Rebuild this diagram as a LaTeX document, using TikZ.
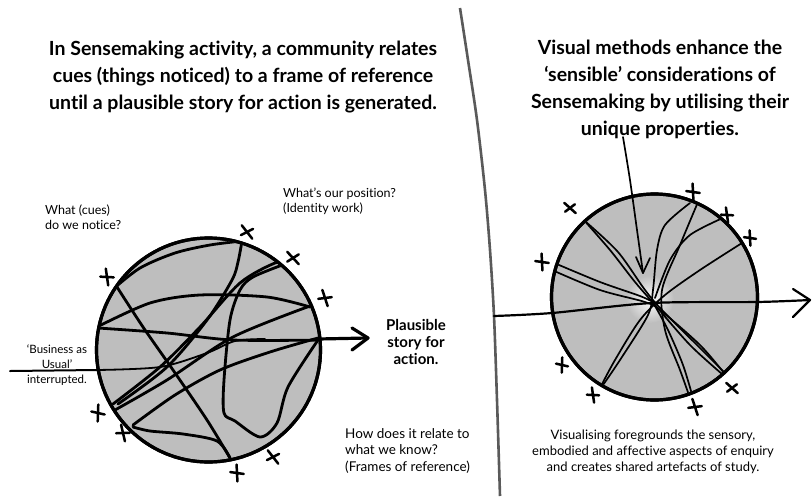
\documentclass[tikz,border=0pt]{standalone}
\usepackage{fontspec}
\setmainfont{Lato}[Ligatures={NoCommon}]
\definecolor{fillgray}{RGB}{190,190,190}
\definecolor{divgray}{RGB}{90,90,90}
\tikzset{
  titletext/.style={align=center, inner sep=0pt, font=\fontsize{19.5}{27}\selectfont\bfseries},
  smalltext/.style={align=left, inner sep=0pt, font=\fontsize{12.5}{15}\selectfont},
  captext/.style={align=center, inner sep=0pt, font=\fontsize{13}{16}\selectfont},
  boldlabel/.style={align=center, inner sep=0pt, font=\fontsize{15}{17}\selectfont\bfseries},
  ball/.style={circle, draw=black, line width=3.2pt, fill=fillgray, inner sep=0pt},
  thickstroke/.style={line width=2.8pt, line cap=round, line join=round},
  thinstroke/.style={line width=1.7pt, line cap=round, line join=round},
  xmark/.pic={\draw[line width=2.5pt, line cap=round] (-4,-7.5) -- (4,7.5) (-6.5,2) -- (6.5,-2);}
}
\begin{document}
\begin{tikzpicture}[x=1pt,y=-1pt]
\useasboundingbox (0,0) rectangle (812,496);
\fill[white] (0,0) rectangle (812,496);

% divider
\draw[divgray, line width=2.6pt] plot[smooth] coordinates {(460,8) (468,60) (477,120) (485,190) (490,250) (494,316) (497,400) (500,496)};

% titles
\node[titletext] (t1) at (243,77) {In Sensemaking activity, a community relates\\cues (things noticed) to a frame of reference\\until a plausible story for action is generated.};
\node[titletext] (t2) at (660,89) {Visual methods enhance the\\`sensible' considerations of\\Sensemaking by utilising their\\unique properties.};

% ===== left circle =====
\node[ball, minimum size=224pt] (L) at (208.5,350) {};
\begin{scope}
\clip (208.5,350) circle (110.5);
\draw[thickstroke] plot[smooth] coordinates {(112,290) (140,268) (175,253) (210,245) (242,241)};
\draw[thickstroke] plot[smooth] coordinates {(242,241) (238,262) (232,280) (207,320) (167,367) (118,404)};
\draw[thickstroke] plot[smooth] coordinates {(97,327) (150,303) (200,295) (267,297) (310,307)};
\draw[thickstroke] plot[smooth] coordinates {(98,328) (167,333) (233,340) (322,340)};
\draw[thickstroke] plot[smooth] coordinates {(117,287) (143,327) (173,370) (207,420) (230,458)};
\draw[thickstroke] plot[smooth] coordinates {(133,427) (150,431) (183,434) (217,441) (230,458)};
\draw[thickstroke] plot[smooth] coordinates {(133,425) (175,395) (220,370) (270,352) (318,338)};
\draw[thickstroke] plot[smooth] coordinates {(113,404) (160,367) (200,327) (240,283) (275,263) (292,262)};
\draw[thickstroke] plot[smooth] coordinates {(115,410) (167,380) (233,337) (310,306)};
\draw[thickstroke] plot[smooth] coordinates {(285,264) (253,277) (240,290) (230,320) (224,380) (224,413) (235,421) (260,437) (277,423) (288,387) (318,340)};
\end{scope}
\node[ball, minimum size=224pt, fill=none] (Lrim) at (208.5,350) {};
% entering line
\coordinate (Lin) at (10,371);
\coordinate (Lout) at (368,338);
\draw[line width=2pt, line cap=round] (Lin) -- (97,370);
\draw[line width=1.8pt, line cap=round] plot[smooth] coordinates {(97,370) (160,367) (207,353) (235,341) (265,339)};
\draw[line width=3.2pt, line cap=round] (318,339) -- (Lout);
\draw[line width=3.2pt, line cap=round, line join=round] (352,328) -- (Lout) -- (352,350);

% left x marks
\pic[rotate=-20] at (107,277) {xmark};
\pic[rotate=10] at (247,232) {xmark};
\pic[rotate=15] at (293,258) {xmark};
\pic[rotate=-10] at (325,298) {xmark};
\pic[rotate=-30] at (98,413) {xmark};
\pic[rotate=-15] at (123,433) {xmark};
\pic[rotate=-25] at (237,473) {xmark};
\pic[rotate=10] at (273,457) {xmark};

% left labels
\node[smalltext, anchor=north west] (cues) at (45,205) {What (cues)\\do we notice?};
\node[smalltext, anchor=north west] (pos) at (283,188) {What's our position?\\(Identity work)};
\node[captext, font=\fontsize{11.5}{15}\selectfont] (bau) at (57,365) {`Business as\\Usual'\\interrupted.};
\node[boldlabel] (plaus) at (416,342) {Plausible\\story for\\action.};
\node[smalltext, anchor=north west, font=\fontsize{13.5}{16.5}\selectfont] (how) at (345,428) {How does it relate to\\what we know?\\(Frames of reference)};

% ===== right circle =====
\node[ball, minimum size=206pt] (R) at (654.5,297) {};
\begin{scope}
\clip (654.5,297) circle (101.5);
\shade[inner color=white, outer color=fillgray] (650,299) circle (24);
\draw[thinstroke] plot[smooth] coordinates {(582,218) (610,250) (635,282) (655,305) (690,345) (722,374)};
\draw[thinstroke] plot[smooth] coordinates {(586,222) (618,252) (645,290) (662,310) (700,348) (724,372)};
\draw[thinstroke] plot[smooth] coordinates {(552,262) (600,282) (640,296) (655,303)};
\draw[thinstroke] plot[smooth] coordinates {(552,270) (600,290) (645,302) (660,310) (700,345) (724,373)};
\draw[thinstroke] plot[smooth] coordinates {(698,202) (680,245) (662,290) (665,330) (680,370) (690,398)};
\draw[thinstroke] plot[smooth] coordinates {(690,203) (665,225) (657,250) (653,290) (648,315) (620,360) (603,385)};
\draw[thinstroke] plot[smooth] coordinates {(742,243) (700,270) (665,295) (640,320) (615,360) (600,388)};
\draw[thinstroke] plot[smooth] coordinates {(725,217) (690,235) (670,260) (655,298)};
\draw[thinstroke] plot[smooth] coordinates {(655,306) (668,330) (683,365) (693,398)};
\end{scope}
\node[ball, minimum size=206pt, fill=none] (Rrim) at (654.5,297) {};
% horizontal arrow
\coordinate (Rin) at (494,316);
\coordinate (Rout) at (810,300);
\draw[line width=2.2pt, line cap=round] plot[smooth] coordinates {(Rin) (552,313) (652,303) (757,302) (Rout)};
\draw[line width=2.2pt, line cap=round, line join=round] (793,289) -- (Rout) -- (793,317);
% downward arrow
\coordinate (Dtop) at (623,137);
\coordinate (Dtip) at (643,273);
\draw[line width=1.7pt, line cap=round] plot[smooth] coordinates {(Dtop) (630,180) (637,230) (Dtip)};
\draw[line width=1.7pt, line cap=round, line join=round] (636,257) -- (Dtip) -- (650,258);

% right x marks
\pic[rotate=20, scale=0.9] at (570,208) {xmark};
\pic[rotate=-25] at (693,192) {xmark};
\pic[rotate=-20, scale=0.9] at (727,215) {xmark};
\pic[rotate=-25, scale=0.9] at (750,238) {xmark};
\pic[rotate=-25] at (542,262) {xmark};
\pic[rotate=-30, scale=0.9] at (562,365) {xmark};
\pic[rotate=-20, scale=0.9] at (593,395) {xmark};
\pic[rotate=-10] at (695,407) {xmark};
\pic[rotate=20, scale=0.9] at (732,388) {xmark};

\node[captext] (vis) at (653,452) {Visualising foregrounds the sensory,\\embodied and affective aspects of enquiry\\and creates shared artefacts of study.};
\end{tikzpicture}
\end{document}
